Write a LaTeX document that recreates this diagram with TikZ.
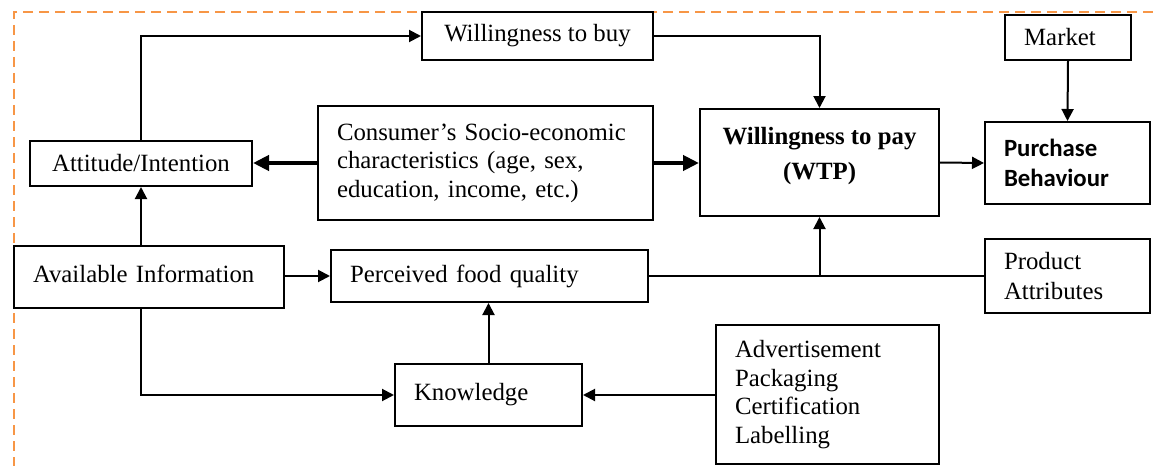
\documentclass[tikz,border=0pt]{standalone}
\usepackage{fontspec}
\setmainfont{Liberation Serif}
\newfontfamily\calfont{Carlito}
\usepackage{xcolor}
\usepackage{tikz}
\usetikzlibrary{positioning,arrows.meta}
\definecolor{frameorange}{HTML}{F79646}

\begin{document}
\begin{tikzpicture}[
    x=0.5pt, y=-0.5pt,
    font=\fontsize{12.4}{14.3}\selectfont,
    blk/.style={draw, line width=1pt, fill=white, inner sep=0pt, align=center},
    lblk/.style={blk, align=left, inner xsep=9.5pt},
    border/.style={draw=frameorange, line width=1pt, dash pattern=on 5pt off 3pt},
    arr/.style={-{Triangle[length=6pt, width=6pt]}, line width=1pt},
    tarr/.style={-{Triangle[length=8pt, width=7.5pt]}, line width=2.25pt},
    ln/.style={line width=1pt}
  ]
  \useasboundingbox (0,0) rectangle (1153,466);
  \draw[border] (1153,12) -| (14,466);

  \node[blk, minimum width=115.5pt, minimum height=24pt] (wtb) at (537.5,36) {Willingness to buy};
  \node[blk, minimum width=111pt, minimum height=22.5pt] (att) at (141,163.5) {Attitude/Intention};
  \node[lblk, text width=148.5pt, minimum height=57pt] (cse) at (485.5,163)
    {Consumer's Socio-economic\\characteristics (age, sex,\\education, income, etc.)};
  \node[blk, minimum width=119.5pt, minimum height=53.5pt, font=\fontsize{12.4}{17.5}\selectfont\bfseries] (wtp) at (819.5,162.5)
    {Willingness to pay\\(WTP)\\[-8pt]};
  \node[blk, minimum width=63pt, minimum height=22.5pt] (mkt) at (1068,37.5) {Market\hspace{8pt}};
  \node[lblk, text width=63.5pt, minimum height=41pt, font=\calfont\bfseries\fontsize{12.4}{15}\selectfont] (pb) at (1067.5,163)
    {Purchase\\Behaviour};
  \node[lblk, text width=116pt, minimum height=31pt] (avail) at (149,277) {\raisebox{3pt}{Available Information}};
  \node[lblk, text width=139.5pt, minimum height=26pt] (pfq) at (489.5,276) {Perceived food quality};
  \node[lblk, text width=74.5pt, minimum height=31pt] (know) at (488.5,395) {\raisebox{2pt}{Knowledge}};
  \node[lblk, text width=92.5pt, minimum height=69.5pt] (adv) at (827.5,394.5)
    {Advertisement\\Packaging\\Certification\\Labelling};
  \node[lblk, text width=63.5pt, minimum height=37pt, font=\fontsize{12.4}{15}\selectfont] (prod) at (1067.5,276)
    {Product\\Attributes};

  \draw[arr] (att.north) |- (wtb.west);
  \draw[arr] (wtb.east) -| (wtp.north);
  \draw[tarr] (cse.west) -- (att.east |- cse.west);
  \draw[tarr] (cse.east) -- (wtp.west |- cse.east);
  \draw[arr] (wtp.east) -- (pb.west);
  \draw[arr] (mkt.south) -- (pb.north);
  \draw[arr] (att.south |- avail.north) -- (att.south);
  \draw[arr] (avail.east |- pfq.west) -- (pfq.west);
  \draw[arr] (att.south |- avail.south) |- (know.west);
  \draw[arr] (know.north) -- (know.north |- pfq.south);
  \draw[arr] (adv.west |- know.east) -- (know.east);
  \draw[ln] (pfq.east) -- (prod.west |- pfq.east);
  \draw[arr] (wtp.south |- pfq.east) -- (wtp.south);
\end{tikzpicture}
\end{document}
